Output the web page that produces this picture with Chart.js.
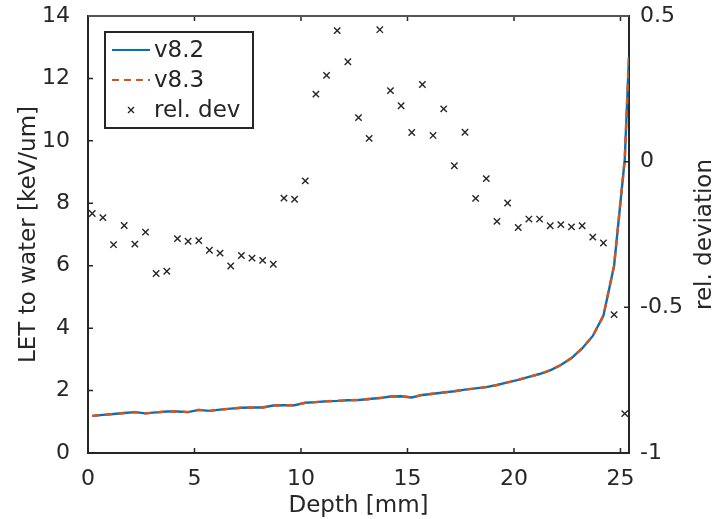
<!DOCTYPE html>
<html>
<head>
<meta charset="utf-8">
<script src="https://cdn.jsdelivr.net/npm/chart.js@4.4.0/dist/chart.umd.min.js"></script>
<style>
body{margin:0;background:#fff;}
#wrap{width:722px;height:519px;}
</style>
</head>
<body>
<div id="wrap"><canvas id="chart" width="722" height="519"></canvas></div>
<script>
// ================= Data =================
const lineDepth=[0.2,0.7,1.2,1.7,2.2,2.7,3.2,3.7,4.2,4.7,5.2,5.7,6.2,6.7,7.2,7.7,8.2,8.7,9.2,9.7,10.2,10.7,11.2,11.7,12.2,12.7,13.2,13.7,14.2,14.7,15.2,15.7,16.2,16.7,17.2,17.7,18.2,18.7,19.2,19.7,20.2,20.7,21.2,21.7,22.2,22.7,23.2,23.7,24.2,24.7,25.2,25.4];
const let82=[1.19,1.22,1.25,1.28,1.31,1.27,1.30,1.33,1.33,1.31,1.38,1.35,1.39,1.42,1.45,1.46,1.46,1.52,1.53,1.53,1.61,1.63,1.66,1.67,1.69,1.70,1.73,1.76,1.81,1.82,1.78,1.86,1.90,1.94,1.98,2.03,2.07,2.11,2.18,2.26,2.34,2.44,2.53,2.65,2.82,3.04,3.35,3.75,4.40,6.00,9.40,12.70];
const let83=[1.19,1.22,1.25,1.28,1.31,1.27,1.30,1.33,1.33,1.31,1.38,1.35,1.39,1.42,1.45,1.46,1.46,1.52,1.53,1.53,1.61,1.63,1.66,1.67,1.69,1.70,1.73,1.76,1.81,1.82,1.78,1.86,1.90,1.94,1.98,2.03,2.07,2.11,2.18,2.26,2.34,2.44,2.53,2.65,2.82,3.04,3.35,3.75,4.40,6.00,9.40,12.70];
const devDepth=[0.2,0.7,1.2,1.7,2.2,2.7,3.2,3.7,4.2,4.7,5.2,5.7,6.2,6.7,7.2,7.7,8.2,8.7,9.2,9.7,10.2,10.7,11.2,11.7,12.2,12.7,13.2,13.7,14.2,14.7,15.2,15.7,16.2,16.7,17.2,17.7,18.2,18.7,19.2,19.7,20.2,20.7,21.2,21.7,22.2,22.7,23.2,23.7,24.2,24.7,25.2];
const relDev=[-0.178,-0.192,-0.285,-0.219,-0.283,-0.242,-0.384,-0.376,-0.264,-0.273,-0.271,-0.304,-0.314,-0.358,-0.322,-0.331,-0.339,-0.352,-0.125,-0.129,-0.066,0.232,0.296,0.450,0.343,0.151,0.080,0.453,0.244,0.192,0.100,0.265,0.090,0.181,-0.014,0.101,-0.126,-0.058,-0.205,-0.142,-0.226,-0.197,-0.197,-0.220,-0.216,-0.224,-0.220,-0.259,-0.279,-0.525,-0.865];
const xTicks=[0,5,10,15,20,25];
const yLeftTicks=[0,2,4,6,8,10,12,14];
const yRightTicks=[-1,-0.5,0,0.5];
const legendLabels=['v8.2','v8.3','rel. dev'];

const BLUE='#0072BD', ORANGE='#D95319', INK='#262626';
const FONT='"DejaVu Sans", sans-serif';
const pts=(xs,ys)=>xs.map((x,i)=>({x:x,y:ys[i]}));

// ================= Plugins =================
// inward tick marks + top box edge (matlab style)
const innerTicks={
    id:'innerTicks',
    afterDatasetsDraw(chart){
        const {ctx,chartArea:a,scales}=chart; const L=5;
        ctx.save(); ctx.strokeStyle=INK; ctx.lineWidth=1.5;
        ctx.beginPath();
        xTicks.forEach(v=>{ const px=scales.x.getPixelForValue(v);
            ctx.moveTo(px,a.bottom); ctx.lineTo(px,a.bottom-L);
            ctx.moveTo(px,a.top); ctx.lineTo(px,a.top+L); });
        yLeftTicks.forEach(v=>{ const py=scales.y.getPixelForValue(v);
            ctx.moveTo(a.left,py); ctx.lineTo(a.left+L,py); });
        yRightTicks.forEach(v=>{ const py=scales.y2.getPixelForValue(v);
            ctx.moveTo(a.right,py); ctx.lineTo(a.right-L,py); });
        ctx.stroke();
        ctx.strokeStyle='#555'; ctx.lineWidth=2;
        ctx.beginPath(); ctx.moveTo(a.left,a.top); ctx.lineTo(a.right,a.top); ctx.stroke();
        ctx.restore();
    }
};
// right axis title reads bottom-to-top like the left one
const rightTitle={
    id:'rightTitle',
    afterDraw(chart){
        const {ctx,chartArea:a}=chart;
        ctx.save(); ctx.translate(705,(a.top+a.bottom)/2); ctx.rotate(-Math.PI/2);
        ctx.fillStyle=INK; ctx.font='23px '+FONT; ctx.textAlign='center'; ctx.textBaseline='middle';
        ctx.fillText('rel. deviation',0,0); ctx.restore();
    }
};
// boxed legend in the upper left of the plot
const boxLegend={
    id:'boxLegend',
    afterDraw(chart){
        const {ctx,chartArea:a}=chart;
        const bx=a.left+17, by=a.top+16, bw=148, bh=96;
        ctx.save();
        ctx.fillStyle='#fff'; ctx.fillRect(bx,by,bw,bh);
        ctx.strokeStyle=INK; ctx.lineWidth=2; ctx.strokeRect(bx,by,bw,bh);
        const rows=[by+18,by+48,by+78];
        ctx.lineWidth=2.2;
        ctx.strokeStyle=BLUE; ctx.beginPath(); ctx.moveTo(bx+7,rows[0]); ctx.lineTo(bx+45,rows[0]); ctx.stroke();
        ctx.strokeStyle=ORANGE; ctx.setLineDash([7,5]); ctx.beginPath(); ctx.moveTo(bx+7,rows[1]); ctx.lineTo(bx+45,rows[1]); ctx.stroke();
        ctx.setLineDash([]);
        ctx.strokeStyle=INK; ctx.lineWidth=1.4; const c=bx+26, r=3;
        ctx.beginPath(); ctx.moveTo(c-r,rows[2]-r); ctx.lineTo(c+r,rows[2]+r); ctx.moveTo(c-r,rows[2]+r); ctx.lineTo(c+r,rows[2]-r); ctx.stroke();
        ctx.fillStyle=INK; ctx.font='23px '+FONT; ctx.textAlign='left'; ctx.textBaseline='middle';
        legendLabels.forEach((t,i)=>ctx.fillText(t,bx+49,rows[i]+1));
        ctx.restore();
    }
};

// ================= Chart =================
const tickFont={family:FONT,size:22};
const noPadV=s=>{s.paddingTop=0; s.paddingBottom=0;};
new Chart(document.getElementById('chart').getContext('2d'),{
    type:'scatter',
    data:{datasets:[
        {label:'v8.2',data:pts(lineDepth,let82),showLine:true,borderColor:BLUE,backgroundColor:BLUE,borderWidth:2.4,pointRadius:0,yAxisID:'y',order:2},
        {label:'v8.3',data:pts(lineDepth,let83),showLine:true,borderColor:ORANGE,backgroundColor:ORANGE,borderWidth:2.4,borderDash:[7,6],pointRadius:0,yAxisID:'y',order:1},
        {label:'rel. dev',data:pts(devDepth,relDev),showLine:false,pointStyle:'crossRot',pointRadius:4.5,borderWidth:1.4,borderColor:INK,backgroundColor:INK,yAxisID:'y2',order:3}
    ]},
    options:{
        responsive:false,animation:false,
        layout:{padding:{top:16,left:0,right:0,bottom:0}},
        plugins:{legend:{display:false},tooltip:{enabled:false}},
        scales:{
            x:{type:'linear',position:'bottom',min:0,max:25.4,
                grid:{display:false},border:{display:true,color:INK,width:2},
                ticks:{stepSize:5,includeBounds:false,autoSkip:false,maxRotation:0,color:INK,font:tickFont,padding:5},
                title:{display:true,text:'Depth [mm]',color:INK,font:{family:FONT,size:23,lineHeight:1.1},padding:{top:0,bottom:0}},
                afterFit:s=>{s.height=66; s.paddingLeft=0; s.paddingRight=0;}},
            y:{type:'linear',position:'left',min:0,max:14,
                grid:{display:false},border:{display:true,color:INK,width:2},
                ticks:{stepSize:2,autoSkip:false,color:INK,font:tickFont,padding:10},
                title:{display:true,text:'LET to water [keV/um]',color:INK,font:{family:FONT,size:23},padding:{top:15,bottom:0}},
                afterFit:s=>{s.width=88; noPadV(s);}},
            y2:{type:'linear',position:'right',min:-1,max:0.5,
                grid:{display:false},border:{display:true,color:INK,width:2},
                ticks:{stepSize:0.5,autoSkip:false,color:INK,font:tickFont,padding:3,callback:v=>String(v)},
                title:{display:false},
                afterFit:s=>{s.width=93; noPadV(s);}}
        }
    },
    plugins:[innerTicks,rightTitle,boxLegend]
});
</script>
</body>
</html>
